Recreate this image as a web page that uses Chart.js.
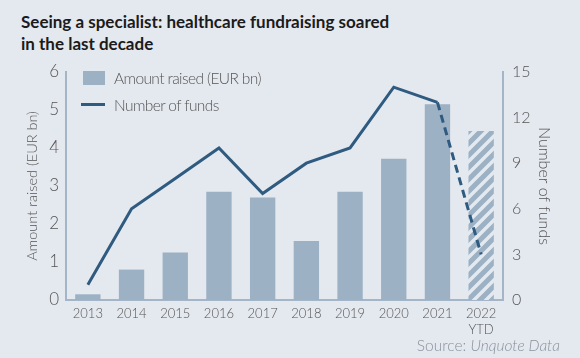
<!DOCTYPE html>
<html>
<head>
<meta charset="utf-8">
<script src="https://cdn.jsdelivr.net/npm/chart.js@4/dist/chart.umd.min.js"></script>
<style>
  html, body { margin: 0; padding: 0; background: #e4e8ef; }
  body { width: 580px; height: 358px; position: relative; overflow: hidden; font-family: Lato, sans-serif; }
  .title { position: absolute; left: 21px; top: 11px; font-weight: bold; font-size: 17px; line-height: 22px; color: #1b1b1b; }
  .chart-wrap { position: absolute; left: 0; top: 0; width: 580px; height: 358px; }
  .legend { position: absolute; left: 81px; top: 64px; font-size: 15.5px; letter-spacing: -0.6px; color: #555; font-weight: 300; }
  .legend__row { display: flex; align-items: center; height: 27px; }
  .legend__box { width: 22px; height: 14px; margin: 0 9px 0 2px; }
  .legend__line { width: 24px; height: 3px; margin: 0 9px 0 0; }
  .source { position: absolute; right: 20px; top: 336px; font-size: 15.5px; color: #8a929c; font-weight: 300; }
</style>
</head>
<body>
<div class="title">Seeing a specialist: healthcare fundraising soared<br>in the last decade</div>
<div class="chart-wrap"><canvas id="chart" width="580" height="358"></canvas></div>
<div class="legend" id="legend"></div>
<div class="source">Source: <i>Unquote Data</i></div>
<script>
const years = ['2013', '2014', '2015', '2016', '2017', '2018', '2019', '2020', '2021', ['2022', 'YTD']];
const amountRaised = [0.15, 0.8, 1.25, 2.85, 2.7, 1.55, 2.85, 3.72, 5.15, 4.45];
const numberOfFunds = [1, 6, 8, 10, 7, 9, 10, 14, 13, 3];
const leftTicks = [0, 1, 2, 3, 4, 5, 6];
const rightTicks = [0, 3, 6, 9, 12, 15];
const seriesNames = ['Amount raised (EUR bn)', 'Number of funds'];

const barColor = '#9cb1c4';
const lineColor = '#2f5b80';
const bgColor = '#e4e8ef';
const axisColor = '#a3b5c6';
const textColor = '#555';

// hatched pattern for the year-to-date bar
function makeHatch() {
  const c = document.createElement('canvas');
  c.width = 12; c.height = 12;
  const p = c.getContext('2d');
  p.fillStyle = bgColor;
  p.fillRect(0, 0, 12, 12);
  p.strokeStyle = barColor;
  p.lineWidth = 5;
  p.beginPath();
  p.moveTo(-3, 15); p.lineTo(15, -3);
  p.moveTo(-9, 9); p.lineTo(9, -9);
  p.moveTo(3, 21); p.lineTo(21, 3);
  p.stroke();
  return p.createPattern(c, 'repeat');
}
const hatch = makeHatch();
const barColors = amountRaised.map((v, i) => i === amountRaised.length - 1 ? hatch : barColor);

// legend
document.getElementById('legend').innerHTML = `
  <div class="legend__row"><span class="legend__box" style="background:${barColor}"></span>${seriesNames[0]}</div>
  <div class="legend__row"><span class="legend__line" style="background:${lineColor}"></span>${seriesNames[1]}</div>
`;

const tickFont = { family: 'Lato', size: 16, weight: '300' };

new Chart(document.getElementById('chart').getContext('2d'), {
  data: {
    labels: years,
    datasets: [
      {
        type: 'line',
        label: seriesNames[1],
        data: numberOfFunds,
        yAxisID: 'y2',
        borderColor: lineColor,
        borderWidth: 3,
        pointRadius: 0,
        tension: 0,
        order: 0,
        segment: {
          borderDash: ctx => ctx.p1DataIndex === numberOfFunds.length - 1 ? [8, 5] : undefined
        }
      },
      {
        type: 'bar',
        label: seriesNames[0],
        data: amountRaised,
        yAxisID: 'y',
        backgroundColor: barColors,
        barPercentage: 0.58,
        categoryPercentage: 1,
        order: 1
      }
    ]
  },
  options: {
    responsive: false,
    animation: false,
    layout: { padding: { top: 72, left: 0, right: 0, bottom: 0 } },
    plugins: { legend: { display: false }, tooltip: { enabled: false } },
    scales: {
      x: {
        grid: { display: false, drawTicks: false },
        border: { color: axisColor, width: 2 },
        ticks: { color: textColor, font: { family: 'Lato', size: 13, weight: '300' }, padding: 6, maxRotation: 0, autoSkip: false },
        afterFit: s => { s.height = 58; }
      },
      y: {
        position: 'left',
        min: 0, max: 6,
        afterBuildTicks: s => { s.ticks = leftTicks.map(v => ({ value: v })); },
        grid: { display: false, drawTicks: false },
        border: { color: axisColor, width: 2 },
        ticks: { color: textColor, font: { family: 'Lato', size: 17, weight: '300' }, padding: 7 },
        title: { display: true, text: seriesNames[0], color: textColor, font: { family: 'Lato', size: 14.5, weight: '300' }, padding: { top: 24, bottom: 0 } },
        afterFit: s => { s.width = 66; }
      },
      y2: {
        position: 'right',
        min: 0, max: 15,
        afterBuildTicks: s => { s.ticks = rightTicks.map(v => ({ value: v })); },
        grid: { display: false, drawTicks: false },
        border: { color: axisColor, width: 2 },
        ticks: { color: textColor, font: tickFont, padding: 9 },
        title: { display: true, text: seriesNames[1], color: textColor, font: { family: 'Lato', size: 16, weight: '300' }, padding: { top: 26, bottom: 0 } },
        afterFit: s => { s.width = 77; }
      }
    }
  }
});
</script>
</body>
</html>
